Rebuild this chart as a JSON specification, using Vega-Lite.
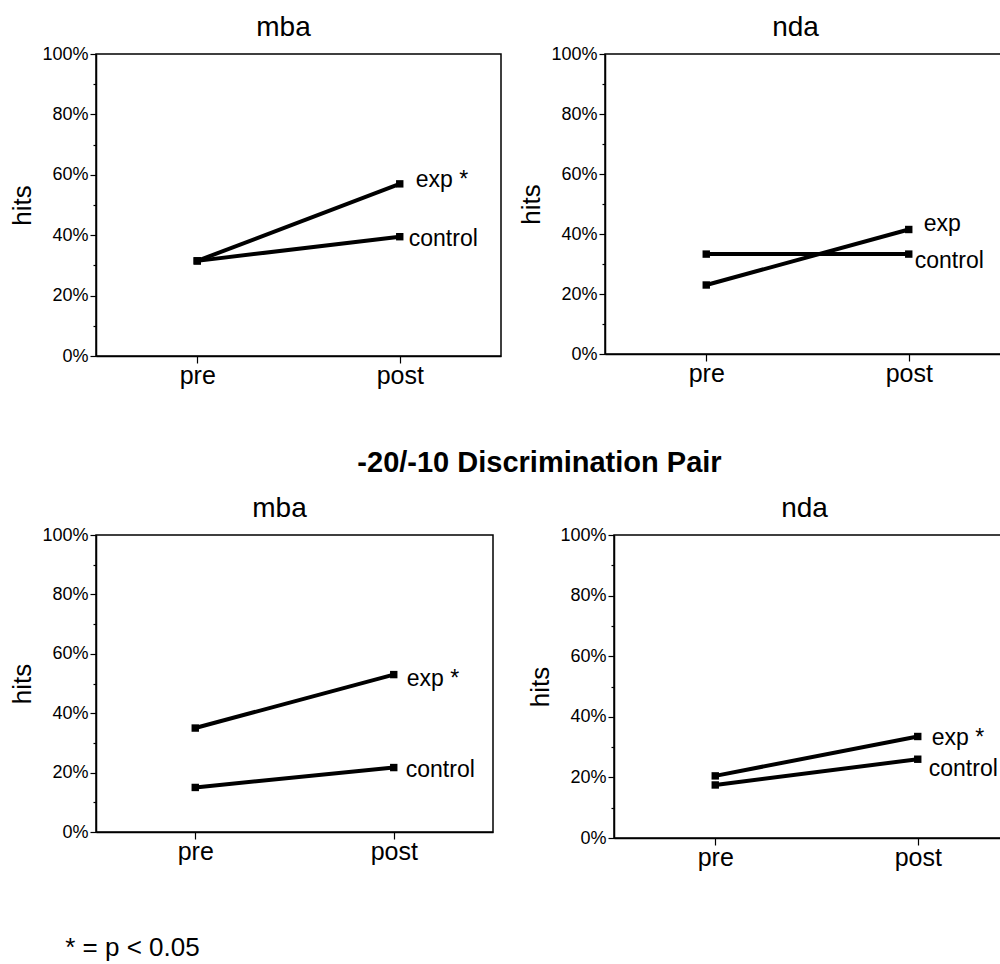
{
  "$schema": "https://vega.github.io/schema/vega-lite/v6.json",
  "padding": {"left": 9, "top": 13, "right": 0, "bottom": 2},
  "background": "white",
  "datasets": {
    "hits": [
      {"row": "top", "measure": "mba", "group": "exp", "phase": "pre", "hits": 0.315, "label": "exp *"},
      {"row": "top", "measure": "mba", "group": "exp", "phase": "post", "hits": 0.57, "label": "exp *"},
      {"row": "top", "measure": "mba", "group": "control", "phase": "pre", "hits": 0.315, "label": "control"},
      {"row": "top", "measure": "mba", "group": "control", "phase": "post", "hits": 0.395, "label": "control"},
      {"row": "top", "measure": "nda", "group": "exp", "phase": "pre", "hits": 0.23, "label": "exp"},
      {"row": "top", "measure": "nda", "group": "exp", "phase": "post", "hits": 0.415, "label": "exp"},
      {"row": "top", "measure": "nda", "group": "control", "phase": "pre", "hits": 0.333, "label": "control"},
      {"row": "top", "measure": "nda", "group": "control", "phase": "post", "hits": 0.333, "label": "control"},
      {"row": "bottom", "measure": "mba", "group": "exp", "phase": "pre", "hits": 0.35, "label": "exp *"},
      {"row": "bottom", "measure": "mba", "group": "exp", "phase": "post", "hits": 0.53, "label": "exp *"},
      {"row": "bottom", "measure": "mba", "group": "control", "phase": "pre", "hits": 0.15, "label": "control"},
      {"row": "bottom", "measure": "mba", "group": "control", "phase": "post", "hits": 0.217, "label": "control"},
      {"row": "bottom", "measure": "nda", "group": "exp", "phase": "pre", "hits": 0.205, "label": "exp *"},
      {"row": "bottom", "measure": "nda", "group": "exp", "phase": "post", "hits": 0.335, "label": "exp *"},
      {"row": "bottom", "measure": "nda", "group": "control", "phase": "pre", "hits": 0.175, "label": "control"},
      {"row": "bottom", "measure": "nda", "group": "control", "phase": "post", "hits": 0.26, "label": "control"}
    ]
  },
  "data": {"name": "hits"},
  "title": {"text": "* = p < 0.05", "orient": "bottom", "anchor": "start", "fontSize": 26, "fontWeight": "normal", "offset": 64, "dx": 56},
  "vconcat": [
    {
      "hconcat": [
        {
          "width": 405, "height": 302,
          "title": {"text": "mba", "dx": -15},
          "transform": [{"filter": "datum.row == 'top' && datum.measure == 'mba'"}],
          "encoding": {
            "x": {"field": "phase", "type": "ordinal", "sort": ["pre", "post"], "scale": {"type": "point", "padding": 0.5}, "axis": {"title": null}},
            "y": {"field": "hits", "type": "quantitative", "scale": {"domain": [0, 1]}, "axis": {"title": "hits"}}
          },
          "layer": [
            {"mark": {"type": "line", "color": "black", "strokeWidth": 4}, "encoding": {"detail": {"field": "group"}}},
            {"mark": {"type": "point", "shape": "square", "filled": true, "color": "black", "size": 55, "opacity": 1}},
            {"transform": [{"filter": "datum.phase == 'post' && datum.group == 'exp'"}], "mark": {"type": "text", "align": "left", "baseline": "middle", "dx": 16, "dy": -4, "fontSize": 23}, "encoding": {"text": {"field": "label"}}},
            {"transform": [{"filter": "datum.phase == 'post' && datum.group == 'control'"}], "mark": {"type": "text", "align": "left", "baseline": "middle", "dx": 9, "dy": 2, "fontSize": 23}, "encoding": {"text": {"field": "label"}}}
          ]
        },
        {
          "width": 405, "height": 300,
          "title": {"text": "nda", "dx": -12},
          "transform": [{"filter": "datum.row == 'top' && datum.measure == 'nda'"}],
          "encoding": {
            "x": {"field": "phase", "type": "ordinal", "sort": ["pre", "post"], "scale": {"type": "point", "padding": 0.5}, "axis": {"title": null}},
            "y": {"field": "hits", "type": "quantitative", "scale": {"domain": [0, 1]}, "axis": {"title": "hits"}}
          },
          "layer": [
            {"mark": {"type": "line", "color": "black", "strokeWidth": 4}, "encoding": {"detail": {"field": "group"}}},
            {"mark": {"type": "point", "shape": "square", "filled": true, "color": "black", "size": 55, "opacity": 1}},
            {"transform": [{"filter": "datum.phase == 'post' && datum.group == 'exp'"}], "mark": {"type": "text", "align": "left", "baseline": "middle", "dx": 15, "dy": -6, "fontSize": 23}, "encoding": {"text": {"field": "label"}}},
            {"transform": [{"filter": "datum.phase == 'post' && datum.group == 'control'"}], "mark": {"type": "text", "align": "left", "baseline": "middle", "dx": 6, "dy": 7, "fontSize": 23}, "encoding": {"text": {"field": "label"}}}
          ]
        }
      ],
      "spacing": 16
    },
    {
      "title": {"text": "-20/-10 Discrimination Pair", "fontSize": 29, "fontWeight": "bold", "anchor": "middle", "dx": 25, "offset": 16},
      "hconcat": [
        {
          "width": 397, "height": 297,
          "title": {"text": "mba", "dx": -15},
          "transform": [{"filter": "datum.row == 'bottom' && datum.measure == 'mba'"}],
          "encoding": {
            "x": {"field": "phase", "type": "ordinal", "sort": ["pre", "post"], "scale": {"type": "point", "padding": 0.5}, "axis": {"title": null}},
            "y": {"field": "hits", "type": "quantitative", "scale": {"domain": [0, 1]}, "axis": {"title": "hits"}}
          },
          "layer": [
            {"mark": {"type": "line", "color": "black", "strokeWidth": 4}, "encoding": {"detail": {"field": "group"}}},
            {"mark": {"type": "point", "shape": "square", "filled": true, "color": "black", "size": 55, "opacity": 1}},
            {"transform": [{"filter": "datum.phase == 'post' && datum.group == 'exp'"}], "mark": {"type": "text", "align": "left", "baseline": "middle", "dx": 13, "dy": 4, "fontSize": 23}, "encoding": {"text": {"field": "label"}}},
            {"transform": [{"filter": "datum.phase == 'post' && datum.group == 'control'"}], "mark": {"type": "text", "align": "left", "baseline": "middle", "dx": 12, "dy": 2, "fontSize": 23}, "encoding": {"text": {"field": "label"}}}
          ]
        },
        {
          "width": 405, "height": 303,
          "title": {"text": "nda", "dx": -12},
          "transform": [{"filter": "datum.row == 'bottom' && datum.measure == 'nda'"}],
          "encoding": {
            "x": {"field": "phase", "type": "ordinal", "sort": ["pre", "post"], "scale": {"type": "point", "padding": 0.5}, "axis": {"title": null}},
            "y": {"field": "hits", "type": "quantitative", "scale": {"domain": [0, 1]}, "axis": {"title": "hits"}}
          },
          "layer": [
            {"mark": {"type": "line", "color": "black", "strokeWidth": 4}, "encoding": {"detail": {"field": "group"}}},
            {"mark": {"type": "point", "shape": "square", "filled": true, "color": "black", "size": 55, "opacity": 1}},
            {"transform": [{"filter": "datum.phase == 'post' && datum.group == 'exp'"}], "mark": {"type": "text", "align": "left", "baseline": "middle", "dx": 14, "dy": 2, "fontSize": 23}, "encoding": {"text": {"field": "label"}}},
            {"transform": [{"filter": "datum.phase == 'post' && datum.group == 'control'"}], "mark": {"type": "text", "align": "left", "baseline": "middle", "dx": 11, "dy": 10, "fontSize": 23}, "encoding": {"text": {"field": "label"}}}
          ]
        }
      ],
      "spacing": 33
    }
  ],
  "spacing": 60,
  "config": {
    "font": "Liberation Sans",
    "view": {"stroke": "black", "strokeWidth": 1.5},
    "title": {"fontSize": 28, "fontWeight": "normal", "color": "black", "offset": 3},
    "text": {"color": "black", "font": "Liberation Sans"},
    "axis": {"grid": false, "domainColor": "black", "domainWidth": 1.5, "tickColor": "black", "tickWidth": 1.2, "labelColor": "black", "titleColor": "black", "labelFont": "Liberation Sans", "titleFont": "Liberation Sans"},
    "axisX": {"labelAngle": 0, "labelFontSize": 25, "tickSize": 7, "labelPadding": 0},
    "axisY": {
      "titleFontSize": 26, "titleFontWeight": "normal", "titlePadding": 6,
      "values": [0, 0.1, 0.2, 0.3, 0.4, 0.5, 0.6, 0.7, 0.8, 0.9, 1],
      "format": ".0%",
      "labelExpr": "round(datum.value * 100) % 20 == 0 ? datum.label : ''",
      "labelFontSize": 18, "labelPadding": 2,
      "tickSize": {"condition": {"test": "round(datum.value * 100) % 20 == 0", "value": 6}, "value": 3}
    }
  }
}
